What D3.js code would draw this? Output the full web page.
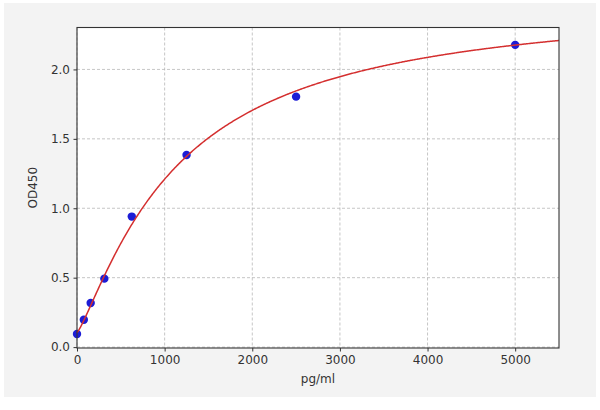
<!DOCTYPE html>
<html>
<head>
<meta charset="utf-8">
<script src="https://cdn.jsdelivr.net/npm/d3@7"></script>
<style>
  body { margin: 0; background: #ffffff; }
  svg { display: block; font-family: "DejaVu Sans", sans-serif; }
</style>
</head>
<body>
<svg id="chart" width="600" height="410"></svg>
<script>
// Data
const concentrations = [0, 78, 156, 312, 625, 1250, 2500, 5000];   // pg/ml
const odValues       = [0.094, 0.197, 0.318, 0.493, 0.94, 1.384, 1.804, 2.177];
const xTicks = [0, 1000, 2000, 3000, 4000, 5000];
const yTicks = [0.0, 0.5, 1.0, 1.5, 2.0];
// Four-parameter logistic fit parameters (estimated from the drawn curve)
const fitA = [0.105], fitB = [1.22], fitC = [1150], fitD = [2.52];
const xLabel = "pg/ml", yLabel = "OD450";

const svg = d3.select("#chart");
const m = { left: 77, right: 559, top: 27.5, bottom: 348 };

// backdrop
svg.append("rect").attr("x", 4).attr("y", 3).attr("width", 592).attr("height", 394).attr("fill", "#f3f3f3");
svg.append("rect").attr("x", m.left).attr("y", m.top).attr("width", m.right - m.left).attr("height", m.bottom - m.top).attr("fill", "#ffffff");

const x = d3.scaleLinear().domain([0, 5500]).range([m.left, m.right]);
const y = d3.scaleLinear().domain([-0.0065, 2.302]).range([m.bottom, m.top]);

// grid
const grid = svg.append("g").attr("stroke", "#b8b8b8").attr("stroke-width", 0.8).attr("stroke-dasharray", "3,2");
grid.selectAll(".gx").data(xTicks).join("line")
  .attr("x1", d => x(d)).attr("x2", d => x(d)).attr("y1", m.top).attr("y2", m.bottom);
grid.selectAll(".gy").data(yTicks).join("line")
  .attr("y1", d => y(d)).attr("y2", d => y(d)).attr("x1", m.left).attr("x2", m.right);

// points
svg.append("g").selectAll("circle").data(concentrations.map((c, i) => [c, odValues[i]])).join("circle")
  .attr("cx", d => x(d[0])).attr("cy", d => y(d[1])).attr("r", 4.2).attr("fill", "#1c1cd6");

// fitted curve
const f = v => fitD[0] + (fitA[0] - fitD[0]) / (1 + Math.pow(v / fitC[0], fitB[0]));
const curveX = d3.range(0, 5500.01, 10);
svg.append("path")
  .datum(curveX)
  .attr("fill", "none").attr("stroke", "#d42f2f").attr("stroke-width", 1.5)
  .attr("d", d3.line().x(d => x(d)).y(d => y(f(d))));

// axes
const xAxis = svg.append("g").attr("transform", `translate(0,${m.bottom})`)
  .call(d3.axisBottom(x).tickValues(xTicks).tickFormat(d3.format("d")).tickSizeOuter(0).tickSize(3.5).tickPadding(3.5));
const yAxis = svg.append("g").attr("transform", `translate(${m.left},0)`)
  .call(d3.axisLeft(y).tickValues(yTicks).tickFormat(d3.format(".1f")).tickSizeOuter(0).tickSize(3.5).tickPadding(3.5));
[xAxis, yAxis].forEach(a => {
  a.select(".domain").remove();
  a.selectAll("line").attr("stroke", "#333");
  a.selectAll("text").attr("fill", "#333").style("font-size", "12px").style("font-family", "DejaVu Sans, sans-serif");
});

// frame
svg.append("rect").attr("x", m.left).attr("y", m.top).attr("width", m.right - m.left).attr("height", m.bottom - m.top)
  .attr("fill", "none").attr("stroke", "#333").attr("stroke-width", 1.1);

// labels
svg.append("text").attr("x", (m.left + m.right) / 2).attr("y", 383).attr("text-anchor", "middle")
  .attr("fill", "#333").style("font-size", "12px").text(xLabel);
svg.append("text").attr("transform", `translate(37,${(m.top + m.bottom) / 2}) rotate(-90)`).attr("text-anchor", "middle")
  .attr("fill", "#333").style("font-size", "12px").text(yLabel);
</script>
</body>
</html>
